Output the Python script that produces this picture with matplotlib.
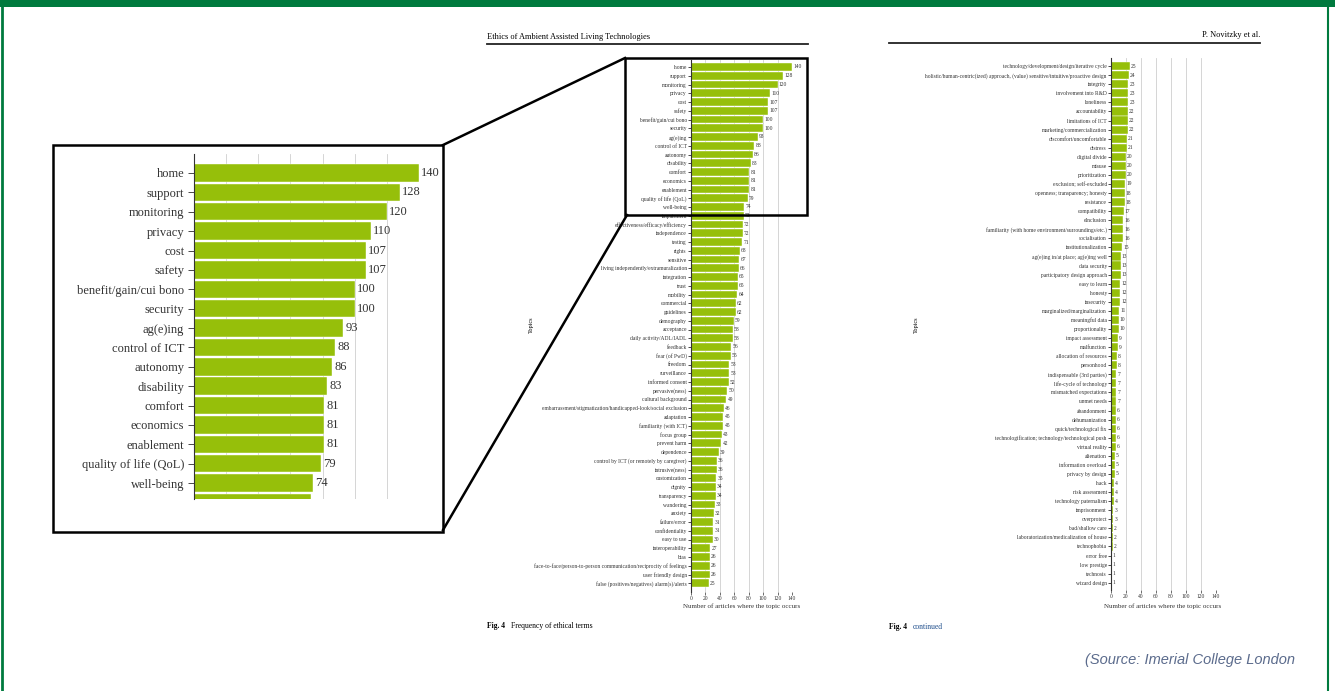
import numpy as np
import matplotlib.pyplot as plt
from matplotlib.patches import Rectangle

# --- data: Fig. 4, frequency of ethical terms ---
topics_a = ['home', 'support', 'monitoring', 'privacy', 'cost', 'safety',
            'benefit/gain/cui bono', 'security', 'ag(e)ing', 'control of ICT',
            'autonomy', 'disability', 'comfort', 'economics', 'enablement',
            'quality of life (QoL)', 'well-being', 'impairment',
            'effectiveness/efficacy/efficiency', 'independence', 'testing', 'rights',
            'sensitive', 'living independently/extramuralization', 'integration',
            'trust', 'mobility', 'commercial', 'guidelines', 'demography',
            'acceptance', 'daily activity/ADL/IADL', 'feedback', 'fear (of PwD)',
            'freedom', 'surveillance', 'informed consent', 'pervasive(ness)',
            'cultural background',
            'embarrassment/stigmatization/handicapped-look/social exclusion',
            'adaptation', 'familiarity (with ICT)', 'focus group', 'prevent harm',
            'dependence', 'control by ICT (or remotely by caregiver)',
            'intrusive(ness)', 'customization', 'dignity', 'transparency',
            'wandering', 'anxiety', 'failure/error', 'confidentiality',
            'easy to use', 'interoperability', 'bias',
            'face-to-face/person-to-person communication/reciprocity of feelings',
            'user friendly design', 'false (positives/negatives) alarm(s)/alerts']
counts_a = [140, 128, 120, 110, 107, 107, 100, 100, 93, 88, 86, 83, 81, 81, 81,
            79, 74, 73, 72, 72, 71, 68, 67, 66, 65, 65, 64, 62, 62, 59, 58, 58,
            56, 55, 53, 53, 52, 50, 49, 46, 45, 45, 43, 42, 39, 36, 36, 35, 34,
            34, 33, 32, 31, 31, 30, 27, 26, 26, 26, 25]

topics_b = ['technology/development/design/iterative cycle',
            'holistic/human-centric(ized) approach, (value) sensitive/intuitive/proactive design',
            'integrity', 'involvement into R&D', 'loneliness', 'accountability',
            'limitations of ICT', 'marketing/commercialization',
            'discomfort/uncomfortable', 'distress', 'digital divide', 'misuse',
            'prioritization', 'exclusion; self-excluded',
            'openness; transparency; honesty', 'resistance', 'compatibility',
            'eInclusion', 'familiarity (with home environment/surroundings/etc.)',
            'socialisation', 'institutionalization',
            'ag(e)ing in/at place; ag(e)ing well', 'data security',
            'participatory design approach', 'easy to learn', 'honesty',
            'insecurity', 'marginalized/marginalization', 'meaningful data',
            'proportionality', 'impact assessment', 'malfunction',
            'allocation of resources', 'personhood', 'indispensable (3rd parties)',
            'life-cycle of technology', 'mismatched expectations', 'unmet needs',
            'abandonment', 'dehumanization', 'quick/technological fix',
            'technologification; technology/technological push', 'virtual reality',
            'alienation', 'information overload', 'privacy by design', 'hack',
            'risk assessment', 'technology paternalism', 'imprisonment',
            'overprotect', 'bad/shallow care',
            'laboratorization/medicalization of house', 'technophobia',
            'error free', 'low prestige', 'technosis', 'wizard design']
counts_b = [25, 24, 23, 23, 23, 22, 22, 22, 21, 21, 20, 20, 20, 19, 18, 18, 17,
            16, 16, 16, 15, 13, 13, 13, 12, 12, 12, 11, 10, 10, 9, 9, 8, 8, 7, 7,
            7, 7, 6, 6, 6, 6, 6, 5, 5, 5, 4, 4, 4, 3, 3, 2, 2, 2, 1, 1, 1, 1]

x_ticks = list(range(0, 141, 20))

GREEN = '#96bf0a'
FRAME = '#007a3e'
W, H = 1335, 691

plt.rcParams['font.family'] = ['Liberation Serif', 'DejaVu Serif']

fig = plt.figure(figsize=(W / 100, H / 100), dpi=100)
fig.patch.set_facecolor('white')


def box(x0, y0, x1, y1):
    # pixel box (top-left origin) -> figure fraction
    return [x0 / W, 1 - y1 / H, (x1 - x0) / W, (y1 - y0) / H]


def bars(ax, names, vals, fs, vfs, pad, ylim, show_x=True):
    y = np.arange(len(names))
    ax.barh(y, vals, height=0.9, color=GREEN, edgecolor='white',
            linewidth=0.3, zorder=2)
    ax.set_yticks(y)
    ax.set_yticklabels(names, fontsize=fs, color='#333333')
    ax.set_xlim(0, 140)
    ax.set_xticks(x_ticks)
    ax.set_ylim(*ylim)
    ax.grid(axis='x', color='#cfcfcf', lw=0.6, zorder=0)
    ax.set_axisbelow(True)
    for s in ['top', 'right', 'bottom']:
        ax.spines[s].set_visible(False)
    ax.spines['left'].set_linewidth(0.8)
    ax.spines['left'].set_color('#333333')
    ax.tick_params(axis='y', length=2, width=0.5, pad=1)
    if show_x:
        ax.tick_params(axis='x', labelsize=fs, length=2, width=0.5, pad=1,
                       colors='#333333')
    else:
        ax.tick_params(axis='x', length=0, labelbottom=False)
    for yi, v in zip(y, vals):
        if ylim[1] - 0.5 < yi < ylim[0]:
            ax.text(v + pad, yi, str(v), va='center', fontsize=vfs,
                    color='#333333', clip_on=False)


# middle chart
ax1 = fig.add_axes(box(691, 60, 792, 592))
bars(ax1, topics_a, counts_a, 4, 4, 1.5, (60.0, -0.8))

# right chart
ax2 = fig.add_axes(box(1111, 58, 1216, 590))
bars(ax2, topics_b, counts_b, 4, 4, 1.5, (57.8, -0.9))

# enlarged inset of the top of the middle chart
ax3 = fig.add_axes(box(194, 154, 419, 499))
bars(ax3, topics_a, counts_a, 9, 9, 1.5, (16.82, -0.98), show_x=False)
ax3.tick_params(axis='y', length=4, pad=3)

# overlay for frame, headers, captions and callout
ov = fig.add_axes([0, 0, 1, 1], zorder=10)
ov.set_xlim(0, W)
ov.set_ylim(H, 0)
ov.axis('off')
ov.patch.set_alpha(0)

ov.add_patch(Rectangle((0, 0), W, 7, color=FRAME, lw=0))
ov.plot([2, 2], [0, H], color=FRAME, lw=2)
ov.plot([1328, 1328], [0, H], color=FRAME, lw=1.5)

ov.add_patch(Rectangle((53, 145), 390, 387, fill=False, ec='black', lw=1.8))
ov.add_patch(Rectangle((625, 58), 182, 157, fill=False, ec='black', lw=1.8))
ov.plot([443, 625], [145, 58], color='black', lw=1.8)
ov.plot([443, 532], [532, 532], color='black', lw=0)
ov.plot([443, 627], [530, 215], color='black', lw=1.8)

ov.text(487, 37, 'Ethics of Ambient Assisted Living Technologies', fontsize=6,
        va='center', ha='left')
ov.plot([487, 808], [44, 44], color='#222222', lw=1.3)
ov.text(1260, 35, 'P. Novitzky et al.', fontsize=6, va='center', ha='right')
ov.plot([889, 1260], [43, 43], color='#222222', lw=1.3)

ov.text(531, 325, 'Topics', fontsize=4.5, rotation=90, va='center', ha='center')
ov.text(916, 325, 'Topics', fontsize=4.5, rotation=90, va='center', ha='center')
ov.text(742, 606, 'Number of articles where the topic occurs', fontsize=5,
        va='center', ha='center', color='#333333')
ov.text(1163, 606, 'Number of articles where the topic occurs', fontsize=5,
        va='center', ha='center', color='#333333')

ov.text(487, 626, 'Fig. 4', fontsize=5.5, fontweight='bold', va='center')
ov.text(511, 626, 'Frequency of ethical terms', fontsize=5.5, va='center')
ov.text(889, 627, 'Fig. 4', fontsize=5.5, fontweight='bold', va='center')
ov.text(913, 627, 'continued', fontsize=5.5, va='center', color='#1f4e8c')

ov.text(1295, 660, '(Source: Imerial College London', fontsize=10.5,
        style='italic', ha='right', va='center', color='#5b6b8c',
        family=['Liberation Sans Narrow', 'Liberation Sans', 'DejaVu Sans'])

fig.savefig('out.png', dpi=100)
